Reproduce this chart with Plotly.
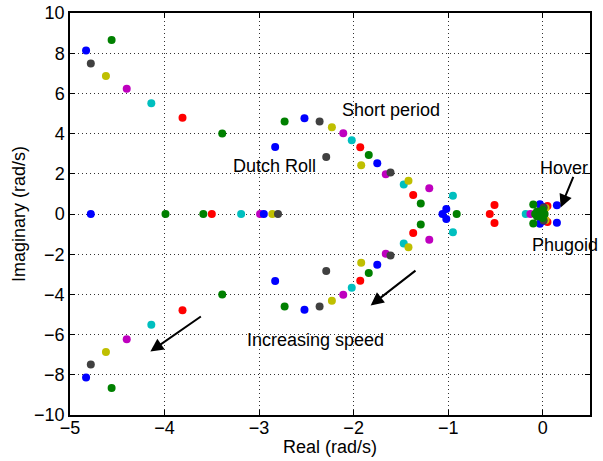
import plotly.graph_objects as go

# Pole locations (real, imaginary) in rad/s, grouped by plot colour
blue_re = [-4.83, -4.83, -4.78, -2.95, -2.83, -2.83, -2.52, -2.52, -1.75, -1.75,
           -1.06, -1.02, -1.02, -0.03, -0.03, 0.15, 0.15, 0.00, 0.00]
blue_im = [8.14, -8.14, 0.0, 0.0, 3.33, -3.33, 4.76, -4.76, 2.53, -2.53,
           0.0, 0.25, -0.25, 0.49, -0.49, 0.44, -0.44, 0.35, -0.35]

green_re = [-4.56, -4.56, -3.99, -3.59, -3.39, -3.39, -2.73, -2.73, -1.84, -1.84,
            -1.29, -1.29, -0.91, -0.10, -0.10, -0.06, -0.06, -0.03, -0.08, 0.00, 0.00,
            -0.05, -0.05, -0.01, -0.01, 0.02]
green_im = [8.66, -8.66, 0.0, 0.0, 4.00, -4.00, 4.60, -4.60, 2.94, -2.94,
            0.52, -0.52, 0.0, 0.47, -0.47, 0.12, -0.12, 0.0, 0.0, 0.20, -0.20,
            0.06, -0.06, 0.10, -0.10, 0.0]

red_re = [-3.81, -3.81, -3.50, -1.93, -1.93, -1.37, -1.37, -0.56, -0.51, -0.51,
          0.05, 0.05, 0.02, 0.02]
red_im = [4.79, -4.79, 0.0, 3.32, -3.32, 0.95, -0.95, 0.0, 0.45, -0.45,
          0.40, -0.40, 0.25, -0.25]

cyan_re = [-4.14, -4.14, -3.19, -2.02, -2.02, -1.47, -1.47, -0.95, -0.95, -0.18,
           0.00, 0.00]
cyan_im = [5.51, -5.51, 0.0, 3.67, -3.67, 1.47, -1.47, 0.91, -0.91, 0.0,
           0.28, -0.28]

magenta_re = [-4.40, -4.40, -2.99, -2.11, -2.11, -1.66, -1.66, -1.20, -1.20, -0.13,
              -0.02, -0.02]
magenta_im = [6.23, -6.23, 0.0, 4.02, -4.02, 1.98, -1.98, 1.28, -1.28, 0.0,
              0.30, -0.30]

yellow_re = [-4.62, -4.62, -2.86, -2.23, -2.23, -1.92, -1.92, -1.42, -1.42, 0.03, 0.03]
yellow_im = [6.87, -6.87, 0.0, 4.32, -4.32, 2.43, -2.43, 1.65, -1.65, 0.30, -0.30]

gray_re = [-4.78, -4.78, -2.80, -2.36, -2.36, -2.29, -2.29, -1.61, -1.61, 0.01, 0.01]
gray_im = [7.49, -7.49, 0.0, 4.60, -4.60, 2.84, -2.84, 2.07, -2.07, 0.32, -0.32]

x_ticks = [-5, -4, -3, -2, -1, 0]
y_ticks = [-10, -8, -6, -4, -2, 0, 2, 4, 6, 8, 10]

FONT = "Liberation Sans, Arial, Helvetica, sans-serif"
FS = 18

series = [
    (red_re, red_im, "rgb(255,0,0)"),
    (cyan_re, cyan_im, "rgb(0,191,191)"),
    (magenta_re, magenta_im, "rgb(191,0,191)"),
    (blue_re, blue_im, "rgb(0,0,255)"),
    (yellow_re, yellow_im, "rgb(191,191,0)"),
    (gray_re, gray_im, "rgb(64,64,64)"),
    (green_re, green_im, "rgb(0,128,0)"),
]

fig = go.Figure()
for re, im, col in series:
    fig.add_trace(go.Scatter(
        x=re, y=im, mode="markers",
        marker=dict(size=8, color=col, line=dict(width=0)),
        cliponaxis=False, showlegend=False, hoverinfo="x+y",
    ))


def minus(v):
    return f"{v:g}".replace("-", "\u2212")


axis_common = dict(
    showline=True, linecolor="black", linewidth=1.5, mirror="allticks",
    ticks="inside", ticklen=5, tickcolor="black", tickwidth=1,
    showgrid=True, gridcolor="#333333", gridwidth=1, griddash="1px,3px",
    zeroline=False, automargin=False,
    tickfont=dict(family=FONT, size=FS, color="black"),
    title_font=dict(family=FONT, size=FS, color="black"),
)

fig.update_xaxes(range=[-5, 0.5], tickvals=x_ticks, ticktext=[minus(v) for v in x_ticks],
                 ticklabelstandoff=-4, **axis_common)
fig.update_yaxes(range=[-10, 10], tickvals=y_ticks, ticktext=[minus(v) for v in y_ticks],
                 title_text="Imaginary (rad/s)", title_standoff=4, **axis_common)

# x-axis title placed just under the tick labels
fig.add_annotation(x=0.5, y=-0.080, xref="paper", yref="paper", text="Real (rad/s)",
                   showarrow=False, xanchor="center", yanchor="middle",
                   font=dict(family=FONT, size=FS, color="black"))

labels = [
    ("Short period", -1.61, 5.16),
    ("Dutch Roll", -2.84, 2.38),
    ("Increasing speed", -2.40, -6.28),
    ("Hover", 0.22, 2.30),
    ("Phugoid", 0.24, -1.52),
]
for text, x, y in labels:
    fig.add_annotation(x=x, y=y, text=text, showarrow=False,
                       font=dict(family=FONT, size=FS, color="black"),
                       xanchor="center", yanchor="middle")

arrows = [
    ((-3.60, -5.05), (-4.15, -6.84)),
    ((-1.33, -2.76), (-1.82, -4.55)),
    ((0.33, 1.92), (0.19, 0.32)),
]
for (tx, ty), (hx, hy) in arrows:
    fig.add_annotation(x=hx, y=hy, ax=tx, ay=ty, xref="x", yref="y",
                       axref="x", ayref="y", text="", showarrow=True,
                       arrowhead=2, arrowsize=1.3, arrowwidth=2, arrowcolor="black")

fig.update_layout(
    width=603, height=461,
    margin=dict(l=70, r=13, t=13, b=46),
    paper_bgcolor="white", plot_bgcolor="white",
    font=dict(family=FONT, color="black"),
)

fig.write_html("out.html")
